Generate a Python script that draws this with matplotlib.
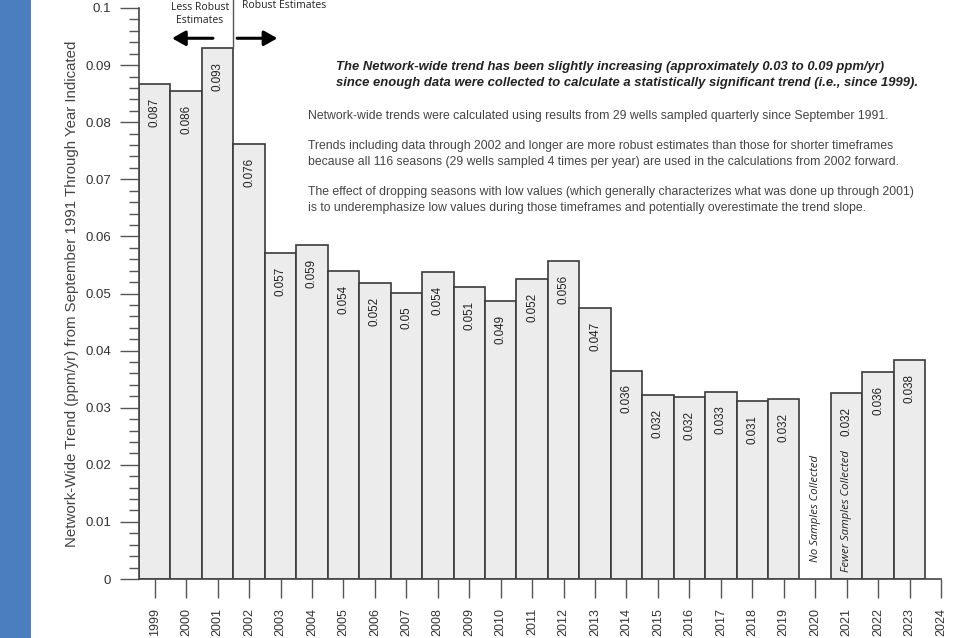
import numpy as np
import matplotlib
matplotlib.use("Agg")
import matplotlib.pyplot as plt
from matplotlib.ticker import MultipleLocator
from matplotlib.patches import Rectangle

# 数据：每年趋势值（2020 年无样本）
years = [1999, 2000, 2001, 2002, 2003, 2004, 2005, 2006, 2007, 2008, 2009, 2010,
         2011, 2012, 2013, 2014, 2015, 2016, 2017, 2018, 2019, 2021, 2022, 2023]
trend = [0.0867, 0.0855, 0.0930, 0.0762, 0.0571, 0.0585, 0.0539, 0.0518, 0.0501,
         0.0538, 0.0511, 0.0487, 0.0525, 0.0557, 0.0475, 0.0365, 0.0322, 0.0319,
         0.0328, 0.0311, 0.0315, 0.0325, 0.0363, 0.0384]
labels = ["0.087", "0.086", "0.093", "0.076", "0.057", "0.059", "0.054", "0.052",
          "0.05", "0.054", "0.051", "0.049", "0.052", "0.056", "0.047", "0.036",
          "0.032", "0.032", "0.033", "0.031", "0.032", "0.032", "0.036", "0.038"]
tick_years = list(range(1999, 2025))

W, H = 961, 638
fig = plt.figure(figsize=(W / 100, H / 100), dpi=100)

# 左侧蓝色条
fig.patches.append(Rectangle((0, 0), 31 / W, 1, transform=fig.transFigure,
                             facecolor="#4a7ebf", edgecolor="none", zorder=0))

ax = fig.add_axes([139 / W, 1 - 579 / H, (941 - 139) / W, (579 - 8) / H])
ax.bar(years, trend, width=1.0, color="#ececec", edgecolor="#3a3a3a", linewidth=1.2)

for x, v, s in zip(years, trend, labels):
    ax.annotate(s, (x, v), xytext=(0, -10), textcoords="offset points",
                rotation=90, ha="center", va="top", fontsize=8.4,
                family="Liberation Sans", color="#222222")

ax.set_xlim(1998.5, 2024)
ax.set_ylim(0, 0.1)
ax.set_xticks(tick_years)
ax.set_xticklabels([str(y) for y in tick_years], rotation=90, fontsize=9,
                   family="Liberation Sans", color="#333333")
ax.set_yticks([0, 0.01, 0.02, 0.03, 0.04, 0.05, 0.06, 0.07, 0.08, 0.09, 0.1])
ax.set_yticklabels(["0", "0.01", "0.02", "0.03", "0.04", "0.05", "0.06", "0.07",
                    "0.08", "0.09", "0.1"], fontsize=9.5, family="Liberation Sans",
                   color="#333333")
ax.yaxis.set_minor_locator(MultipleLocator(0.002))
ax.tick_params(axis="y", which="major", length=14, width=1, color="#555555", pad=6)
ax.tick_params(axis="y", which="minor", length=7, width=1, color="#555555")
ax.tick_params(axis="x", which="major", length=14, width=1, color="#555555", pad=7)
for side in ["top", "right"]:
    ax.spines[side].set_visible(False)
for side in ["left", "bottom"]:
    ax.spines[side].set_color("#444444")
    ax.spines[side].set_linewidth(1.2)

ax.set_ylabel("Network-Wide Trend (ppm/yr) from September 1991 Through Year Indicated",
              fontsize=10.8, family="Liberation Sans", color="#444444")
ax.yaxis.set_label_coords(-(139 - 72) / (941 - 139), 0.5)
ax.yaxis.label.set_va("center")

# 2020 与 2021 注释
ax.text(2020, 0.003, "No Samples Collected", rotation=90, ha="center", va="bottom",
        fontsize=8.1, style="italic", family="Open Sans", color="#222222")
ax.text(2021, 0.0012, "Fewer Samples Collected", rotation=90, ha="center", va="bottom",
        fontsize=8.1, style="italic", family="Open Sans", color="#222222")

# 稳健估计分界线和箭头
ax.plot([2001.5, 2001.5], [0.093, 0.1014], color="#555555", lw=1, clip_on=False)
ax.annotate("", xy=(1999.55, 0.0947), xytext=(2000.85, 0.0947),
            arrowprops=dict(arrowstyle="-|>,head_length=0.8,head_width=0.45",
                            color="black", lw=2.2, shrinkA=0, shrinkB=0),
            annotation_clip=False)
ax.annotate("", xy=(2002.9, 0.0947), xytext=(2001.62, 0.0947),
            arrowprops=dict(arrowstyle="-|>,head_length=0.8,head_width=0.45",
                            color="black", lw=2.2, shrinkA=0, shrinkB=0),
            annotation_clip=False)
fig.text(200 / W, 1 - 14 / H, "Less Robust\nEstimates", ha="center", va="center",
         fontsize=7.5, family="Open Sans", color="#222222", linespacing=1.35)
fig.text(242 / W, 1 - 6 / H, "Robust Estimates", ha="left", va="center",
         fontsize=7.5, family="Open Sans", color="#222222")

# 说明文字
txt_kw = dict(ha="left", va="center", family="Liberation Sans", color="#444444")
bold_kw = dict(ha="left", va="center", family="Liberation Sans", color="#222222",
               weight="bold", style="italic", fontsize=9.4)
fig.text(336 / W, 1 - 67 / H,
         "The Network-wide trend has been slightly increasing (approximately 0.03 to 0.09 ppm/yr)",
         **bold_kw)
fig.text(336 / W, 1 - 83 / H,
         "since enough data were collected to calculate a statistically significant trend (i.e., since 1999).",
         **bold_kw)
fig.text(308 / W, 1 - 116 / H,
         "Network-wide trends were calculated using results from 29 wells sampled quarterly since September 1991.",
         fontsize=8.8, **txt_kw)
fig.text(308 / W, 1 - 146 / H,
         "Trends including data through 2002 and longer are more robust estimates than those for shorter timeframes",
         fontsize=8.8, **txt_kw)
fig.text(308 / W, 1 - 162 / H,
         "because all 116 seasons (29 wells sampled 4 times per year) are used in the calculations from 2002 forward.",
         fontsize=8.8, **txt_kw)
fig.text(308 / W, 1 - 192 / H,
         "The effect of dropping seasons with low values (which generally characterizes what was done up through 2001)",
         fontsize=8.8, **txt_kw)
fig.text(308 / W, 1 - 208 / H,
         "is to underemphasize low values during those timeframes and potentially overestimate the trend slope.",
         fontsize=8.8, **txt_kw)

fig.savefig("out.png", dpi=100)
